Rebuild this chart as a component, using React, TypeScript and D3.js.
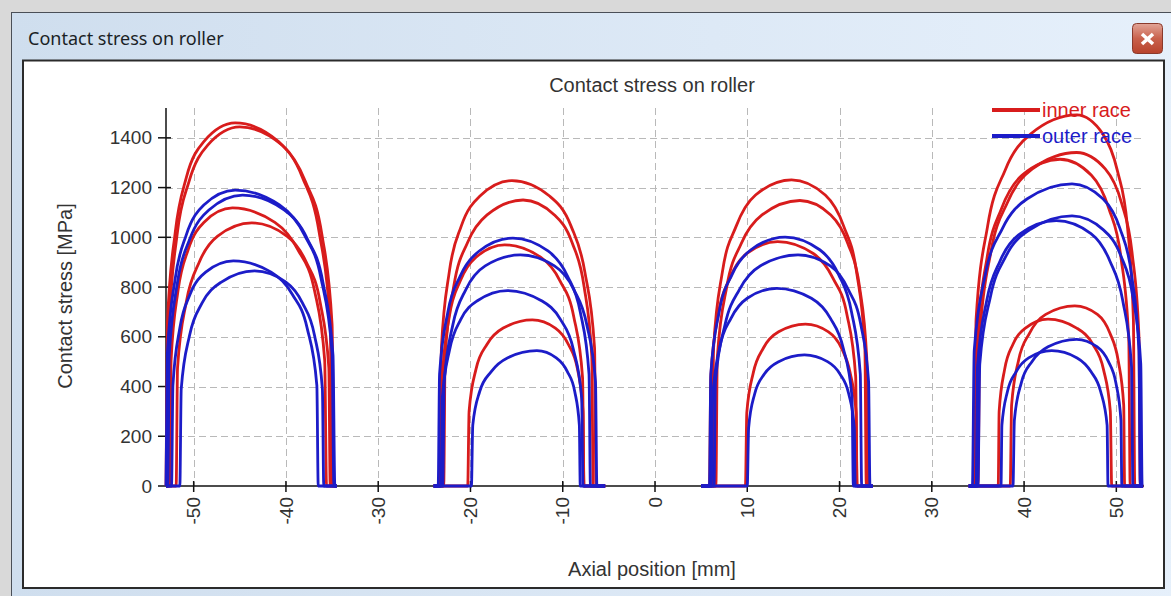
import React, { useEffect, useRef } from 'react';
import * as d3 from 'd3';

type Pt = [number, number];

const xTicks = [-50, -40, -30, -20, -10, 0, 10, 20, 30, 40, 50];
const yTicks = [0, 200, 400, 600, 800, 1000, 1200, 1400];
const legendNames = ['inner race', 'outer race'];

// roller 1 (left), inner race profiles [axial mm, stress MPa]
const inner1: Pt[][] = [
  [[-53, 0], [-52.85, 655], [-52.0, 1020], [-50.8, 1240], [-48.9, 1385], [-45.5, 1460], [-40.8, 1385], [-38.2, 1240], [-36.4, 1020], [-35.2, 655], [-35.0, 0], [-34.5, 0]],
  [[-53, 0], [-52.8, 0], [-52.65, 650], [-51.8, 1010], [-50.5, 1225], [-48.5, 1370], [-45.0, 1444], [-40.4, 1370], [-37.9, 1225], [-36.1, 1010], [-35.0, 650], [-34.8, 0], [-34.5, 0]],
  [[-53, 0], [-52.6, 0], [-52.45, 505], [-51.7, 785], [-50.6, 950], [-48.9, 1060], [-45.8, 1118], [-41.2, 1060], [-38.7, 950], [-36.9, 785], [-35.8, 505], [-35.6, 0], [-34.5, 0]],
  [[-53, 0], [-51.9, 0], [-51.75, 475], [-50.8, 740], [-49.4, 900], [-47.4, 1005], [-43.7, 1058], [-39.9, 1005], [-37.8, 900], [-36.3, 740], [-35.35, 475], [-35.2, 0], [-34.5, 0]],
];
// roller 1, outer race
const outer1: Pt[][] = [
  [[-53, 0], [-52.85, 535], [-52.0, 835], [-50.8, 1010], [-48.9, 1130], [-45.5, 1190], [-40.7, 1130], [-38.0, 1010], [-36.2, 835], [-35.0, 535], [-34.8, 0], [-34.5, 0]],
  [[-53, 0], [-52.8, 0], [-52.65, 525], [-51.75, 820], [-50.4, 995], [-48.35, 1110], [-44.7, 1170], [-40.2, 1110], [-37.7, 995], [-36.0, 820], [-34.9, 525], [-34.7, 0], [-34.5, 0]],
  [[-53, 0], [-52.4, 0], [-52.25, 405], [-51.5, 635], [-50.4, 770], [-48.7, 860], [-45.7, 905], [-41.6, 860], [-39.3, 770], [-37.7, 635], [-36.65, 405], [-36.5, 0], [-34.5, 0]],
  [[-53, 0], [-51.5, 0], [-51.35, 390], [-50.45, 605], [-49.1, 735], [-47.0, 820], [-43.4, 865], [-40.0, 820], [-38.2, 735], [-36.9, 605], [-36.05, 390], [-35.9, 0], [-34.5, 0]],
];

// roller 2
const inner2: Pt[][] = [
  [[-24, 0], [-23.3, 0], [-23.15, 555], [-22.3, 860], [-21.0, 1045], [-19.0, 1165], [-15.5, 1228], [-11.4, 1165], [-9.1, 1045], [-7.6, 860], [-6.55, 555], [-6.4, 0], [-5.4, 0]],
  [[-24, 0], [-22.9, 0], [-22.75, 520], [-21.8, 805], [-20.3, 980], [-18.2, 1090], [-14.3, 1150], [-10.9, 1090], [-9.0, 980], [-7.7, 805], [-6.85, 520], [-6.7, 0], [-5.4, 0]],
  [[-24, 0], [-23.2, 0], [-23.05, 435], [-22.3, 680], [-21.1, 825], [-19.4, 920], [-16.3, 970], [-12.4, 920], [-10.3, 825], [-8.8, 680], [-7.85, 435], [-7.7, 0], [-5.4, 0]],
  [[-24, 0], [-20.3, 0], [-20.15, 300], [-19.4, 470], [-18.2, 570], [-16.45, 635], [-13.3, 668], [-10.8, 635], [-9.4, 570], [-8.4, 470], [-7.8, 300], [-7.7, 0], [-5.4, 0]],
];
const outer2: Pt[][] = [
  [[-24, 0], [-23.5, 0], [-23.35, 450], [-22.45, 700], [-21.1, 845], [-19.05, 945], [-15.4, 997], [-11.6, 945], [-9.5, 845], [-8.1, 700], [-7.15, 450], [-7.0, 0], [-5.4, 0]],
  [[-24, 0], [-23.0, 0], [-22.85, 420], [-21.9, 650], [-20.5, 790], [-18.4, 885], [-14.6, 929], [-10.9, 885], [-8.8, 790], [-7.4, 650], [-6.45, 420], [-6.3, 0], [-5.4, 0]],
  [[-24, 0], [-23.2, 0], [-23.05, 355], [-22.25, 550], [-21.05, 670], [-19.25, 745], [-16.0, 786], [-12.3, 745], [-10.25, 670], [-8.85, 550], [-7.95, 355], [-7.8, 0], [-5.4, 0]],
  [[-24, 0], [-19.9, 0], [-19.75, 245], [-19.0, 380], [-17.75, 460], [-16.0, 515], [-12.8, 544], [-10.7, 515], [-9.5, 460], [-8.7, 380], [-8.2, 245], [-8.1, 0], [-5.4, 0]],
];

// roller 3
const inner3: Pt[][] = [
  [[5, 0], [6.2, 0], [6.35, 555], [7.3, 860], [8.8, 1045], [10.9, 1170], [14.8, 1231], [18.45, 1170], [20.45, 1045], [21.85, 860], [22.75, 555], [22.9, 0], [23.6, 0]],
  [[5, 0], [6.6, 0], [6.75, 515], [7.8, 805], [9.35, 975], [11.6, 1090], [15.7, 1148], [19.05, 1090], [20.9, 975], [22.15, 805], [22.95, 515], [23.1, 0], [23.6, 0]],
  [[5, 0], [5.9, 0], [6.05, 440], [6.85, 690], [8.1, 835], [9.95, 935], [13.3, 983], [17.15, 935], [19.3, 835], [20.8, 690], [21.75, 440], [21.9, 0], [23.6, 0]],
  [[5, 0], [9.8, 0], [9.95, 295], [10.65, 455], [11.75, 555], [13.4, 620], [16.3, 651], [18.8, 620], [20.2, 555], [21.15, 455], [21.8, 295], [21.9, 0], [23.6, 0]],
];
const outer3: Pt[][] = [
  [[5, 0], [5.9, 0], [6.05, 450], [6.95, 700], [8.35, 850], [10.4, 950], [14.1, 1001], [17.85, 950], [19.9, 850], [21.3, 700], [22.25, 450], [22.4, 0], [23.6, 0]],
  [[5, 0], [6.4, 0], [6.55, 420], [7.6, 650], [9.15, 790], [11.4, 885], [15.5, 929], [19.0, 885], [20.95, 790], [22.3, 650], [23.15, 420], [23.3, 0], [23.6, 0]],
  [[5, 0], [6.1, 0], [6.25, 360], [7.0, 555], [8.25, 675], [10.0, 755], [13.2, 795], [16.95, 755], [19.0, 675], [20.4, 555], [21.35, 360], [21.5, 0], [23.6, 0]],
  [[5, 0], [10.0, 0], [10.15, 235], [10.8, 370], [11.85, 450], [13.4, 500], [16.2, 527], [18.7, 500], [20.05, 450], [21.0, 370], [21.6, 235], [21.7, 0], [23.6, 0]],
];

// roller 4 (right)
const inner4: Pt[][] = [
  [[34, 0], [34.6, 0], [34.8, 670], [36.05, 1045], [37.95, 1270], [40.7, 1415], [45.7, 1492], [48.55, 1415], [50.1, 1270], [51.2, 1045], [51.85, 670], [52.0, 0], [52.9, 0]],
  [[34, 0], [35.0, 0], [35.2, 605], [36.4, 940], [38.2, 1140], [40.9, 1275], [45.7, 1341], [48.8, 1275], [50.55, 1140], [51.7, 940], [52.45, 605], [52.6, 0], [52.9, 0]],
  [[34, 0], [34.8, 0], [34.95, 590], [36.0, 920], [37.55, 1115], [39.8, 1250], [43.9, 1314], [47.3, 1250], [49.2, 1115], [50.5, 920], [51.35, 590], [51.5, 0], [52.9, 0]],
  [[34, 0], [38.5, 0], [38.65, 325], [39.4, 505], [40.6, 615], [42.35, 690], [45.5, 724], [47.95, 690], [49.3, 615], [50.2, 505], [50.8, 325], [50.9, 0], [52.9, 0]],
  [[34, 0], [37.2, 0], [37.3, 300], [37.9, 470], [38.8, 570], [40.15, 635], [42.6, 671], [45.7, 635], [47.45, 570], [48.6, 470], [49.35, 300], [49.5, 0], [52.9, 0]],
];
const outer4: Pt[][] = [
  [[34, 0], [34.4, 0], [34.6, 545], [35.8, 850], [37.65, 1035], [40.35, 1155], [45.2, 1215], [48.55, 1155], [50.4, 1035], [51.65, 850], [52.45, 545], [52.6, 0], [52.9, 0]],
  [[34, 0], [35.0, 0], [35.2, 490], [36.35, 760], [38.05, 925], [40.6, 1030], [45.2, 1086], [48.6, 1030], [50.5, 925], [51.8, 760], [52.65, 490], [52.8, 0], [52.9, 0]],
  [[34, 0], [34.8, 0], [34.95, 480], [35.95, 745], [37.4, 905], [39.6, 1015], [43.5, 1067], [47.25, 1015], [49.3, 905], [50.7, 745], [51.65, 480], [51.8, 0], [52.9, 0]],
  [[34, 0], [38.8, 0], [38.95, 265], [39.7, 415], [40.85, 500], [42.6, 560], [45.7, 590], [47.9, 560], [49.15, 500], [49.95, 415], [50.5, 265], [50.6, 0], [52.9, 0]],
  [[34, 0], [37.5, 0], [37.6, 245], [38.2, 380], [39.15, 460], [40.5, 515], [43.0, 544], [45.75, 515], [47.25, 460], [48.3, 380], [49.0, 245], [49.1, 0], [52.9, 0]],
];

const App = () => {
  const ref = useRef<SVGSVGElement>(null);
  const width = 1171;
  const height = 596;
  const font = 'Liberation Sans, Arial, sans-serif';
  const red = '#d81c1c';
  const blue = '#1c1cc8';

  useEffect(() => {
    const svg = d3.select(ref.current);
    svg.selectAll('*').remove();

    // window chrome
    const defs = svg.append('defs');
    const tg = defs.append('linearGradient').attr('id', 'titlebar');
    tg.append('stop').attr('offset', '0%').attr('stop-color', '#cfdeee');
    tg.append('stop').attr('offset', '60%').attr('stop-color', '#dde9f6');
    tg.append('stop').attr('offset', '100%').attr('stop-color', '#e6f0fb');
    const bg = defs.append('linearGradient').attr('id', 'closebtn').attr('x1', 0).attr('x2', 0).attr('y1', 0).attr('y2', 1);
    bg.append('stop').attr('offset', '0%').attr('stop-color', '#e2a598');
    bg.append('stop').attr('offset', '50%').attr('stop-color', '#c9614c');
    bg.append('stop').attr('offset', '100%').attr('stop-color', '#b8432c');

    svg.append('rect').attr('width', width).attr('height', height).attr('fill', '#d9d9d9');
    svg.append('rect').attr('x', 11.5).attr('y', 12.5).attr('width', width).attr('height', height)
      .attr('fill', 'url(#titlebar)').attr('stroke', '#4a4f57').attr('stroke-width', 1);
    svg.append('text').attr('x', 28).attr('y', 45).attr('font-family', 'Noto Sans, sans-serif')
      .attr('font-size', 18).attr('fill', '#1b1f26').text('Contact stress on roller');
    svg.append('rect').attr('x', 1132.5).attr('y', 23.5).attr('width', 30).attr('height', 30).attr('rx', 4)
      .attr('fill', 'url(#closebtn)').attr('stroke', '#8a3a2c');
    svg.append('path').attr('d', 'M1142,34 L1153,44 M1153,34 L1142,44')
      .attr('stroke', '#fff').attr('stroke-width', 3.5);

    // white chart panel
    svg.append('rect').attr('x', 23).attr('y', 60.5).attr('width', 1141).attr('height', 527.5)
      .attr('fill', '#fff').attr('stroke', '#2b2b2b').attr('stroke-width', 2);

    const x = d3.scaleLinear().domain([-53, 53]).range([166, 1144]);
    const y = d3.scaleLinear().domain([0, 1520]).range([486, 108]);

    // grid
    const grid = svg.append('g').attr('stroke', '#b9b9b9').attr('stroke-width', 1).attr('stroke-dasharray', '7,4');
    yTicks.filter((t) => t > 0).forEach((t) => {
      grid.append('line').attr('x1', x(-53)).attr('x2', x(53))
        .attr('y1', Math.round(y(t)) + 0.5).attr('y2', Math.round(y(t)) + 0.5);
    });
    xTicks.forEach((t) => {
      grid.append('line').attr('y1', y(1520)).attr('y2', y(0))
        .attr('x1', Math.round(x(t)) + 0.5).attr('x2', Math.round(x(t)) + 0.5);
    });

    // axes
    const axes = svg.append('g').attr('stroke', '#111').attr('stroke-width', 1.5);
    axes.append('line').attr('x1', x(-53)).attr('x2', x(-53)).attr('y1', y(1520)).attr('y2', y(0));
    axes.append('line').attr('x1', x(-53)).attr('x2', x(53)).attr('y1', y(0)).attr('y2', y(0));
    yTicks.forEach((t) => {
      axes.append('line').attr('x1', x(-53) - 8).attr('x2', x(-53) + 5).attr('y1', y(t)).attr('y2', y(t));
    });
    xTicks.forEach((t) => {
      axes.append('line').attr('x1', x(t)).attr('x2', x(t)).attr('y1', y(0) - 5).attr('y2', y(0) + 6);
    });

    const labels = svg.append('g').attr('font-family', font).attr('font-size', 19).attr('fill', '#333');
    yTicks.forEach((t) => {
      labels.append('text').attr('x', 152).attr('y', y(t)).attr('dy', '0.35em')
        .attr('text-anchor', 'end').text(t);
    });
    xTicks.forEach((t) => {
      labels.append('text')
        .attr('transform', `translate(${x(t)},${y(0) + 11}) rotate(-90)`)
        .attr('dy', '0.35em').attr('text-anchor', 'end').text(t);
    });

    // titles
    const titles = svg.append('g').attr('font-family', font).attr('font-size', 20).attr('fill', '#333');
    titles.append('text').attr('x', 652).attr('y', 92).attr('text-anchor', 'middle').text('Contact stress on roller');
    titles.append('text').attr('x', 652).attr('y', 576).attr('text-anchor', 'middle').text('Axial position [mm]');
    titles.append('text').attr('transform', 'translate(65,296) rotate(-90)')
      .attr('dy', '0.35em').attr('text-anchor', 'middle').text('Contact stress [MPa]');

    // profiles
    const line = d3.line<Pt>()
      .x((d) => x(d[0]))
      .y((d) => y(d[1]))
      .curve(d3.curveMonotoneX);

    const curves = svg.append('g').attr('fill', 'none').attr('stroke-width', 2.8)
      .attr('stroke-linejoin', 'round');
    [inner1, inner2, inner3, inner4].forEach((group) => {
      group.forEach((c) => curves.append('path').attr('d', line(c)).attr('stroke', red));
    });
    [outer1, outer2, outer3, outer4].forEach((group) => {
      group.forEach((c) => curves.append('path').attr('d', line(c)).attr('stroke', blue));
    });

    // legend
    const legend = svg.append('g').attr('font-family', font).attr('font-size', 20);
    [red, blue].forEach((col, i) => {
      legend.append('line').attr('x1', 992).attr('x2', 1040)
        .attr('y1', 110 + i * 26).attr('y2', 110 + i * 26)
        .attr('stroke', col).attr('stroke-width', 4);
      legend.append('text').attr('x', 1042).attr('y', 110 + i * 26).attr('dy', '0.35em')
        .attr('fill', col).text(legendNames[i]);
    });
  }, []);

  return (
    <svg
      ref={ref}
      width={width}
      height={height}
      style={{ position: 'absolute', left: 0, top: 0 }}
    />
  );
};

export default App;
